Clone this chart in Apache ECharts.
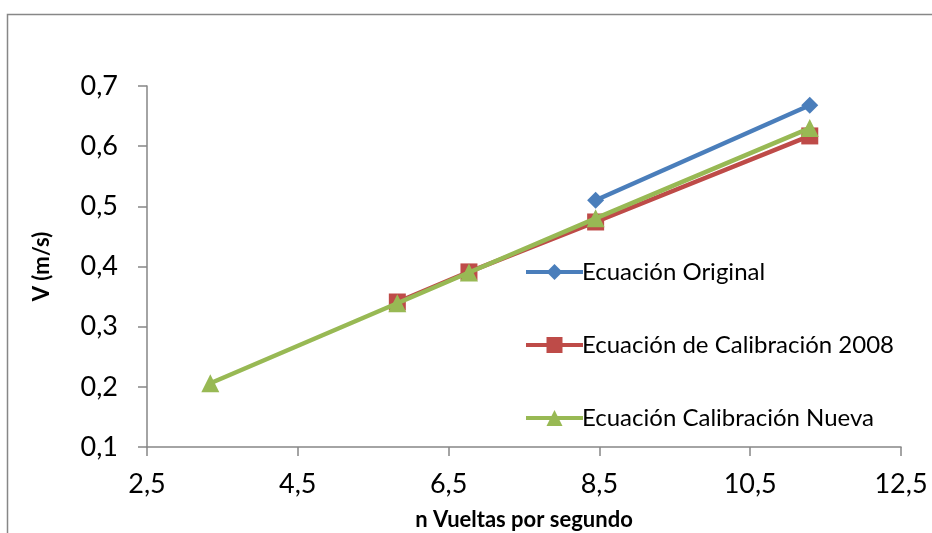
<!DOCTYPE html>
<html>
<head>
<meta charset="utf-8">
<script src="https://cdn.jsdelivr.net/npm/echarts@6/dist/echarts.min.js"></script>
<style>
html,body{margin:0;padding:0;background:#fff;}
#c{width:932px;height:533px;}
</style>
</head>
<body>
<div id="c"></div>
<script>
// Data
const xOriginal = [8.45, 11.29];
const yOriginal = [0.510, 0.668];
const xCal2008 = [5.82, 6.77, 8.45, 11.29];
const yCal2008 = [0.341, 0.391, 0.474, 0.617];
const xNueva = [3.34, 5.82, 6.77, 8.45, 11.29];
const yNueva = [0.206, 0.339, 0.390, 0.480, 0.630];
const xTicks = [2.5, 4.5, 6.5, 8.5, 10.5, 12.5];
const seriesNames = ['Ecuación Original', 'Ecuación de Calibración 2008', 'Ecuación Calibración Nueva'];
const colors = ['#4a7ebb', '#be4b48', '#98b954'];

const pairs = (xs, ys) => xs.map((x, i) => [x, ys[i]]);
const FONT = 'Lato';
const fmt = v => (Math.round(v * 10) / 10).toFixed(1).replace('.', ',');

const chart = echarts.init(document.getElementById('c'), null, {renderer: 'canvas'});
chart.setOption({
  animation: false,
  backgroundColor: '#fff',
  color: colors,
  graphic: [{
    type: 'rect', left: 5, top: 12, z: -10,
    shape: {width: 1000, height: 600},
    style: {fill: 'none', stroke: '#878787', lineWidth: 1.5}
  }],
  grid: {left: 147, top: 86, right: 31, bottom: 86, containLabel: false, outerBoundsMode: 'none'},
  legend: {
    orient: 'vertical', left: 519, top: 254,
    itemWidth: 57, itemHeight: 20, itemGap: 47,
    lineStyle: {width: 4},
    textStyle: {fontFamily: FONT, fontSize: 24, lineHeight: 26, color: '#000', padding: [0, 0, 0, -6]},
    data: seriesNames
  },
  xAxis: {
    type: 'value', min: 2.5, max: 12.5,
    name: 'n Vueltas por segundo', nameLocation: 'middle', nameGap: 62,
    nameTextStyle: {fontFamily: FONT, fontSize: 22, fontWeight: 'bold', color: '#000'},
    axisLine: {show: true, lineStyle: {color: '#868686', width: 1.5}},
    axisTick: {show: true, inside: false, length: 9, customValues: xTicks, lineStyle: {color: '#868686', width: 1.5}},
    axisLabel: {customValues: xTicks, margin: 24, fontFamily: FONT, fontSize: 27, color: '#000', formatter: v => v.toFixed(1).replace('.', ',')},
    splitLine: {show: false}
  },
  yAxis: {
    type: 'value', min: 0.1, max: 0.7, interval: 0.1,
    name: 'V (m/s)', nameLocation: 'middle', nameGap: 94, nameRotate: 90,
    nameTextStyle: {fontFamily: FONT, fontSize: 22, fontWeight: 'bold', color: '#000'},
    axisLine: {show: true, lineStyle: {color: '#868686', width: 1.5}},
    axisTick: {show: true, inside: false, length: 9, lineStyle: {color: '#868686', width: 1.5}},
    axisLabel: {margin: 29, fontFamily: FONT, fontSize: 27, color: '#000', formatter: fmt},
    splitLine: {show: false}
  },
  series: [
    {name: seriesNames[0], type: 'line', data: pairs(xOriginal, yOriginal), symbol: 'diamond', symbolSize: 17,
     lineStyle: {width: 4.5, color: colors[0]}, itemStyle: {color: colors[0]}, z: 2},
    {name: seriesNames[1], type: 'line', data: pairs(xCal2008, yCal2008), symbol: 'rect', symbolSize: 17,
     lineStyle: {width: 4.5, color: colors[1]}, itemStyle: {color: colors[1]}, z: 3},
    {name: seriesNames[2], type: 'line', data: pairs(xNueva, yNueva), symbol: 'triangle', symbolSize: 18,
     lineStyle: {width: 4.5, color: colors[2]}, itemStyle: {color: colors[2]}, z: 4}
  ]
});
</script>
</body>
</html>
